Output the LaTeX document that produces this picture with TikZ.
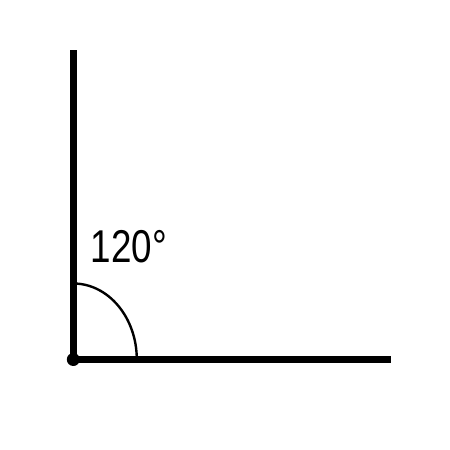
\documentclass[tikz,border=0pt]{standalone}
\usepackage{fontspec}
\setmainfont{Liberation Sans}
\usetikzlibrary{positioning}

\begin{document}
\begin{tikzpicture}[x=1pt,y=1pt]
\useasboundingbox (0,0) rectangle (450,450);
\coordinate (O) at (73.3,90.5);
\coordinate (T) at (73.3,400);
\coordinate (R) at (391,90.5);
%============
\draw[line width=6.5pt] (O) -- (T);
\draw[line width=7.5pt] (O) -- (R);
\fill (O) circle (6.5pt);
\draw[line width=2.4pt] ([yshift=76pt]O) arc[start angle=90, end angle=0, x radius=63.5, y radius=76];
%==========
\node[font=\fontsize{46}{46}\selectfont, inner sep=0pt, xscale=0.8] (L) at (129,203) {120°};
\end{tikzpicture}
\end{document}
